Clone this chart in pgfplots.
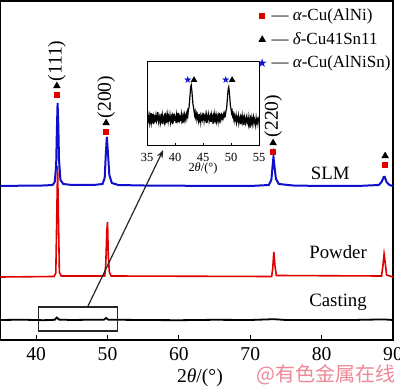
\documentclass[border=0pt]{standalone}
\usepackage{pgfplots}
\pgfplotsset{compat=1.18}
\usepackage{fontspec}
\setmainfont{Liberation Serif}
\newfontfamily\cjk{Noto Sans CJK SC}
\newfontfamily\dejavu{DejaVu Sans}
\usetikzlibrary{arrows.meta}
\definecolor{slm}{RGB}{15,15,205}
\definecolor{pw}{RGB}{225,0,0}
\definecolor{wm}{RGB}{238,135,150}
\begin{document}
\begin{tikzpicture}
\begin{axis}[name=main, scale only axis, width=196.25pt, height=169.5pt,
  xmin=35, xmax=90, ymin=0, ymax=339,
  xtick={40,50,...,90}, ytick=\empty, tick align=inside, xtick pos=bottom,
  major tick length=2.5pt, clip=false,
  axis line style={line width=0.6pt}, tick style={line width=0.5pt, black},
  ticklabel style={font=\fontsize{9.8}{11}\selectfont},
  /pgf/number format/assume math mode=true,
  xlabel={2{\itshape θ}/(°)},
  xlabel style={font=\fontsize{9.8}{11}\selectfont, at={(axis description cs:0.508,0)}, anchor=center, yshift=-19pt},
  legend style={draw=none, fill=none, font=\fontsize{8.5}{10}\selectfont,
    at={(axis description cs:0.647,0.997)}, anchor=north west, row sep=0.5pt, inner sep=1pt},
  legend cell align=left,
]
% Casting
\addplot[forget plot, black, line width=0.9pt] coordinates {
(35,20)(38,20.3)(41,19.8)(42.6,20.2)(42.9,22.5)(43.2,20.4)(45,20)(47,20.2)(49.5,20.3)(49.8,22)(50.1,20.3)(55,20)(60,19.8)(65,20.2)(70,20)(73.3,20.8)(75,20)(80,20)(85,20.1)(88.7,20.6)(90,20)};
% Powder
\addplot[forget plot, pw, line width=0.8pt] coordinates {
(35,63)(42.5,63.5)(42.75,67)(42.9,130)(43.0,174)(43.1,130)(43.25,68)(43.5,64)(49.6,64)(49.75,75)(49.9,110)(50.0,118)(50.1,85)(50.25,68)(50.5,64)(73.0,63.5)(73.15,72)(73.3,88)(73.45,75)(73.65,64.5)(88.4,64)(88.6,75)(88.75,86)(88.9,78)(89.1,65)(90,63)};
% SLM
\addplot[forget plot, slm, line width=1pt] coordinates {
(35,154)(38,154.3)(41,154.5)(42.3,155)(42.6,158)(42.8,175)(42.9,210)(43.0,237)(43.1,215)(43.2,180)(43.4,160)(43.8,156)(45,155)(48,155)(49.3,156)(49.6,162)(49.75,185)(49.9,203)(50.05,188)(50.25,165)(50.6,157)(51.5,155)(55,154.5)(60,154.3)(65,154)(70,154)(72.6,155)(72.95,160)(73.1,172)(73.25,183)(73.4,173)(73.6,161)(74.0,156)(76,154.5)(80,154)(85,154)(88,155)(88.4,158)(88.7,163)(88.85,163)(89.1,158)(89.5,155)(90,154)};
% peak markers
\addplot[only marks, mark=square*, mark size=1.3pt, pw, mark options={draw=pw}] coordinates {(42.9,245)(49.8,208)(73.2,188)(88.9,175)};
\addlegendentry{— {\itshape α}-Cu(AlNi)}
\addplot[only marks, mark=triangle*, mark size=1.8pt, black] coordinates {(42.9,254)(49.8,217)(73.2,197)(88.9,184)};
\addlegendentry{— {\itshape δ}-Cu41Sn11}
\addlegendimage{only marks, mark=text, text mark={\textcolor{slm}{\dejavu\fontsize{6}{6}\selectfont ★}}}
\addlegendentry{— {\itshape α}-Cu(AlNiSn)}
% labels
\node[rotate=90, font=\fontsize{9.8}{11}\selectfont] at (axis cs:42.9,279) {(111)};
\node[rotate=90, font=\fontsize{9.8}{11}\selectfont] at (axis cs:49.8,243) {(200)};
\node[rotate=90, font=\fontsize{9.8}{11}\selectfont] at (axis cs:73.2,224) {(220)};
\node[font=\fontsize{9.4}{11}\selectfont] at (axis cs:81.2,167) {SLM};
\node[font=\fontsize{9.4}{11}\selectfont] at (axis cs:82.3,88) {Powder};
\node[font=\fontsize{9.4}{11}\selectfont] at (axis cs:82.3,38) {Casting};
\draw[line width=0.7pt, black!85] (axis cs:40.3,9) rectangle (axis cs:51.4,33);
\draw[line width=0.6pt, black!85, -{Stealth[length=4pt,width=3pt]}] (axis cs:47.2,33) -- (axis cs:57.8,190);
\node[font=\cjk\fontsize{10}{11}\selectfont, text=wm] at (axis cs:80.6,-35) {@有色金属在线};
\end{axis}
\begin{axis}[at={(73.25pt,97pt)}, anchor=south west, scale only axis, width=56pt, height=42pt,
  xmin=35, xmax=55, ymin=0, ymax=84,
  xtick={35,40,...,55}, ytick=\empty, tick align=inside, xtick pos=bottom,
  major tick length=1.5pt,
  axis line style={line width=0.5pt}, tick style={line width=0.4pt, black},
  ticklabel style={font=\fontsize{6.2}{7}\selectfont},
  /pgf/number format/assume math mode=true,
  xlabel={2{\itshape θ}/(°)},
  xlabel style={font=\fontsize{6.2}{7}\selectfont, at={(axis description cs:0.5,0)}, anchor=center, yshift=-11pt},
  axis background/.style={fill=white},
]
\addplot[black, line width=0.6pt] coordinates {
(35.0,29)(35.1,25)(35.2,31)(35.3,27)(35.4,23)(35.5,30)(35.6,26)(35.7,33)(35.8,24)(35.9,28)
(36.0,32)(36.1,22)(36.2,29)(36.3,26)(36.4,31)(36.5,24)(36.6,30)(36.7,25)(36.8,28)(36.9,34)
(37.0,26)(37.1,23)(37.2,30)(37.3,28)(37.4,24)(37.5,32)(37.6,27)(37.7,31)(37.8,22)(37.9,29)
(38.0,27)(38.1,24)(38.2,33)(38.3,26)(38.4,30)(38.5,23)(38.6,28)(38.7,32)(38.8,25)(38.9,29)
(39.0,27)(39.1,31)(39.2,24)(39.3,28)(39.4,30)(39.5,22)(39.6,29)(39.7,26)(39.8,32)(39.9,25)
(40.0,30)(40.1,28)(40.2,23)(40.3,31)(40.4,27)(40.5,33)(40.6,24)(40.7,29)(40.8,26)(40.9,30)
(41.0,27)(41.1,25)(41.2,32)(41.3,28)(41.4,23)(41.5,30)(41.6,27)(41.7,31)(41.8,26)(41.9,30)
(42.0,32)(42.1,28)(42.2,34)(42.3,31)(42.4,37)(42.5,38)(42.6,45)(42.7,52)(42.8,59)(42.9,61)
(43.0,56)(43.1,49)(43.2,42)(43.3,39)(43.4,35)(43.5,31)(43.6,34)(43.7,29)(43.8,32)(43.9,27)
(44.0,31)(44.1,28)(44.2,25)(44.3,32)(44.4,27)(44.5,30)(44.6,24)(44.7,29)(44.8,31)(44.9,26)
(45.0,28)(45.1,33)(45.2,25)(45.3,29)(45.4,27)(45.5,31)(45.6,23)(45.7,30)(45.8,26)(45.9,29)
(46.0,32)(46.1,25)(46.2,28)(46.3,30)(46.4,24)(46.5,31)(46.6,27)(46.7,29)(46.8,22)(46.9,30)
(47.0,27)(47.1,32)(47.2,26)(47.3,29)(47.4,25)(47.5,31)(47.6,28)(47.7,24)(47.8,30)(47.9,27)
(48.0,33)(48.1,26)(48.2,29)(48.3,31)(48.4,27)(48.5,30)(48.6,28)(48.7,32)(48.8,30)(48.9,33)
(49.0,31)(49.1,35)(49.2,37)(49.3,43)(49.4,51)(49.5,57)(49.6,59)(49.7,54)(49.8,47)(49.9,40)
(50.0,37)(50.1,33)(50.2,35)(50.3,30)(50.4,32)(50.5,27)(50.6,30)(50.7,25)(50.8,28)(50.9,31)
(51.0,24)(51.1,28)(51.2,26)(51.3,30)(51.4,23)(51.5,27)(51.6,29)(51.7,22)(51.8,28)(51.9,25)
(52.0,30)(52.1,24)(52.2,27)(52.3,21)(52.4,29)(52.5,26)(52.6,23)(52.7,28)(52.8,30)(52.9,24)
(53.0,26)(53.1,22)(53.2,29)(53.3,25)(53.4,18)(53.5,27)(53.6,24)(53.7,28)(53.8,22)(53.9,26)
(54.0,29)(54.1,23)(54.2,27)(54.3,25)(54.4,21)(54.5,28)(54.6,24)(54.7,26)(54.8,22)(54.9,27)(55.0,25)};
\addplot[only marks, mark=text, text mark={\textcolor{slm}{\dejavu\fontsize{5}{5}\selectfont ★}}] coordinates {(42.3,66)(49.1,66)};
\addplot[only marks, mark=triangle*, mark size=1.5pt, black] coordinates {(43.4,66)(50.2,66)};
\end{axis}
\pgfresetboundingbox
\path[use as bounding box] (-0.25pt,-24.5pt) rectangle (199.75pt,170pt);
\end{tikzpicture}
\end{document}
